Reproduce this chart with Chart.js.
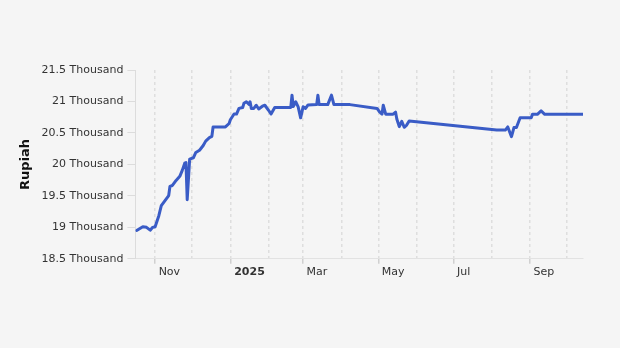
<!DOCTYPE html>
<html>
<head>
<meta charset="utf-8">
<script src="https://cdn.jsdelivr.net/npm/chart.js@4.4.1/dist/chart.umd.min.js"></script>
<style>
  html, body { margin: 0; padding: 0; background: #f5f5f5; }
  #wrap { width: 620px; height: 348px; }
</style>
</head>
<body>
<div id="wrap"><canvas id="rateChart" width="620" height="348"></canvas></div>
<script>
// Rupiah series
const dates = ['2024-10-17','2024-10-22','2024-10-25','2024-10-28','2024-10-30','2024-11-01','2024-11-04','2024-11-06','2024-11-09','2024-11-12',
    '2024-11-13','2024-11-15','2024-11-18','2024-11-21','2024-11-23','2024-11-25','2024-11-26','2024-11-27','2024-11-29','2024-12-02',
    '2024-12-04','2024-12-07','2024-12-10','2024-12-12','2024-12-15','2024-12-17','2024-12-18','2024-12-28','2024-12-31','2025-01-01',
    '2025-01-04','2025-01-06','2025-01-08','2025-01-11','2025-01-12','2025-01-14','2025-01-16','2025-01-17','2025-01-18','2025-01-20',
    '2025-01-22','2025-01-24','2025-01-27','2025-01-29','2025-02-01','2025-02-03','2025-02-06','2025-02-19','2025-02-20','2025-02-21',
    '2025-02-23','2025-02-25','2025-02-27','2025-03-01','2025-03-03','2025-03-05','2025-03-12','2025-03-13','2025-03-14','2025-03-21',
    '2025-03-24','2025-03-26','2025-04-08','2025-04-30','2025-05-02','2025-05-04','2025-05-05','2025-05-07','2025-05-13','2025-05-15',
    '2025-05-16','2025-05-18','2025-05-20','2025-05-22','2025-05-24','2025-05-26','2025-08-05','2025-08-12','2025-08-14','2025-08-17',
    '2025-08-19','2025-08-21','2025-08-24','2025-09-02','2025-09-03','2025-09-07','2025-09-10','2025-09-13','2025-10-14'];

const rupiah = [18950,19010,19000,18955,19000,19010,19185,19345,19425,19505,
    19650,19665,19745,19810,19905,20020,20030,19440,20085,20105,
    20190,20225,20300,20370,20425,20445,20595,20595,20650,20710,
    20800,20800,20890,20905,20970,20995,20955,20995,20890,20890,
    20940,20880,20925,20940,20860,20800,20905,20905,21100,20920,
    20995,20915,20740,20915,20890,20945,20950,21100,20950,20950,
    21100,20950,20950,20890,20835,20800,20940,20798,20798,20830,
    20720,20600,20685,20590,20625,20690,20545,20545,20595,20440,
    20586,20586,20742,20742,20795,20795,20850,20795,20795];

// x axis: month starts, label every other month
const monthTicks = ['2024-11-01','2024-12-01','2025-01-01','2025-02-01','2025-03-01','2025-04-01',
    '2025-05-01','2025-06-01','2025-07-01','2025-08-01','2025-09-01','2025-10-01'];
const monthLabels = ['Nov','','2025','','Mar','','May','','Jul','','Sep',''];
const xStart = '2024-10-16';
const xEnd = '2025-10-14';

// y axis
const yMin = 18500;
const yMax = 21500;
const yStep = 500;

function toMs(d) {
    return new Date(d + 'T00:00:00Z').getTime();
}

const points = dates.map((d, i) => ({ x: toMs(d), y: rupiah[i] }));
const tickMs = monthTicks.map(toMs);

const ctx = document.getElementById('rateChart').getContext('2d');

new Chart(ctx, {
    type: 'line',
    data: {
        datasets: [{
            label: 'Rupiah',
            data: points,
            borderColor: '#3a5cc6',
            borderWidth: 3,
            borderJoinStyle: 'round',
            borderCapStyle: 'round',
            pointRadius: 0,
            tension: 0
        }]
    },
    options: {
        responsive: false,
        animation: false,
        layout: {
            padding: { left: 14, right: 37, top: 70, bottom: 67 }
        },
        plugins: {
            legend: { display: false },
            tooltip: { enabled: false }
        },
        scales: {
            x: {
                type: 'linear',
                min: toMs(xStart),
                max: toMs(xEnd),
                afterBuildTicks: function(scale) {
                    scale.ticks = tickMs.map(v => ({ value: v }));
                },
                grid: {
                    color: '#dedede',
                    lineWidth: 1.5,
                    drawTicks: true,
                    tickLength: 5,
                    tickColor: function(c) {
                        return monthLabels[c.index] ? '#d0d0d0' : 'rgba(0,0,0,0)';
                    }
                },
                border: {
                    display: true,
                    color: '#e2e2e2',
                    dash: [3, 3]
                },
                ticks: {
                    autoSkip: false,
                    maxRotation: 0,
                    align: 'start',
                    padding: 2,
                    color: '#333',
                    font: function(c) {
                        const bold = c.tick && monthLabels[c.index] === '2025';
                        return { family: 'DejaVu Sans', size: 11, weight: bold ? 'bold' : 'normal' };
                    },
                    callback: function(value, index) {
                        return monthLabels[index] ? ' ' + monthLabels[index] : '';
                    }
                }
            },
            y: {
                min: yMin,
                max: yMax,
                grid: {
                    drawOnChartArea: false,
                    drawTicks: true,
                    tickLength: 8,
                    tickColor: '#dcdcdc'
                },
                border: {
                    display: true,
                    color: '#dcdcdc'
                },
                ticks: {
                    stepSize: yStep,
                    padding: 4,
                    color: '#333',
                    font: { family: 'DejaVu Sans', size: 11 },
                    callback: function(value) {
                        return (value / 1000) + ' Thousand';
                    }
                },
                title: {
                    display: true,
                    text: 'Rupiah',
                    color: '#111',
                    padding: 4,
                    font: { family: 'DejaVu Sans', size: 13, weight: 'bold' }
                }
            }
        }
    }
});
</script>
</body>
</html>
